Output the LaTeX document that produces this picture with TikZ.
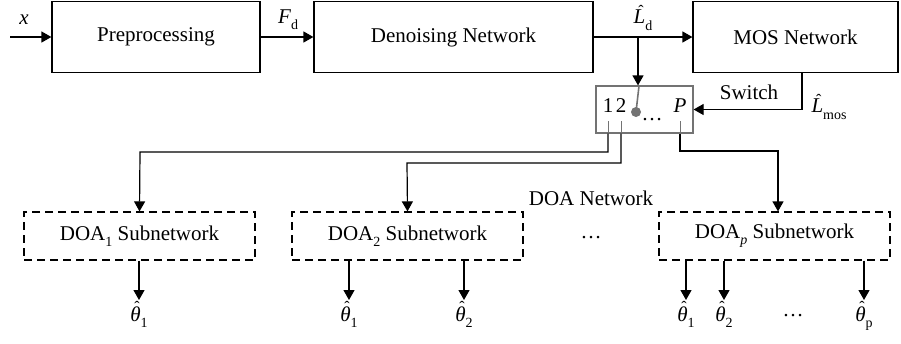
\documentclass[tikz,border=0pt]{standalone}
\usepackage{fontspec}
\setmainfont{Liberation Serif}
\usetikzlibrary{arrows.meta,calc}
% lowered subscript in text mode
\newcommand\lowsub[1]{\raisebox{-0.3em}{\fontsize{14}{15}\selectfont #1}}
% circumflex placed over an italic letter
\newcommand\hatof[2][0.34em]{\setbox0\hbox{#2}\makebox[0pt][l]{\hbox to\wd0{\hss\kern0.14em\raisebox{#1}{\fontsize{16}{16}\selectfont ˆ}\hss}}\box0}
\begin{document}
\begin{tikzpicture}[x=1pt,y=-1pt,
  font=\fontsize{21}{24}\selectfont,
  line width=1.2pt,
  box/.style={draw, rectangle, minimum height=71pt},
  subbox/.style={draw, dash pattern=on 8pt off 5pt, rectangle, minimum width=231pt, minimum height=48pt},
  arr/.style={-{Triangle[length=10pt,width=11pt]}},
  lbl/.style={inner sep=1pt},
  outlbl/.style={anchor=north, inner sep=1pt},
  graybox/.style={draw=black!55, rectangle, minimum width=97pt, minimum height=47pt}]
\useasboundingbox (0,0) rectangle (901,343);

% main processing chain
\node[box, minimum width=208pt] (pre) at (156,37) {Preprocessing};
\node[box, minimum width=279pt] (den) at (453.5,37) {Denoising Network};
\node[box, minimum width=205pt] (mos) at (795.5,37) {MOS Network};

\coordinate (xin) at (10,37);
\draw[arr] (xin) -- (pre.west);
\node[lbl] at (24,20) {\textit{x}};
\draw[arr] (pre.east) -- (den.west);
\node[lbl] at (288,20) {\textit{F}\lowsub{d}};
\draw[arr] (den.east) -- (mos.west);
\node[lbl] at (643,18) {\hatof{\textit{L}}\lowsub{d}};

% switch
\node[graybox] (sw) at (644.5,109.5) {};
\coordinate (br) at (638,37);
\draw[arr] (br) -- (br |- sw.north);
\node[lbl] (t1) at (608,106) {1};
\node[lbl] (t2) at (621,106) {2};
\node[lbl] (tp) at (680,106) {\textit{P}};
\node[lbl] at (652,120) {\dots};
\fill[black!55] (636,112) circle (5pt);
\draw[black!55, line width=1.6pt] (639,86) -- (636,112);

\coordinate (mosout) at ($(mos.south)+(6.5,0)$);
\draw[arr] (mosout) |- (sw.east);
\node[lbl] at (749,92) {Switch};
\node[lbl] at (829,107) {\hatof{\textit{L}}\lowsub{mos}};

% DOA subnetworks
\node[subbox] (d1) at (139.5,236) {DOA\lowsub{1} Subnetwork};
\node[subbox] (d2) at (407.5,236) {DOA\lowsub{2} Subnetwork};
\node[subbox] (dp) at (774.5,236) {DOA\lowsub{\textit{p}} Subnetwork};
\node[lbl] at (591,198) {DOA Network};
\node[lbl] at (591,238) {\dots};

% switch outputs
\coordinate (s1) at (608,121);
\coordinate (s2) at (621,121);
\coordinate (sp) at (680,121);
\draw[black!55, line width=0.9pt] (s1) -- (s1 |- sw.south);
\draw[black!55, line width=0.9pt] (s2) -- (s2 |- sw.south);
\draw[black!55, line width=0.9pt] (sp) -- (sp |- sw.south);
\draw[arr] (s1 |- sw.south) |- (140,152) -- (d1.north);
\draw[arr] (s2 |- sw.south) |- (407,163) -- (d2.north);
\draw[arr] (sp |- sw.south) |- (778,151) -- ($(dp.north)+(3.5,0)$);

% estimated angles
\node[outlbl] (a11) at (139,300) {\hatof[0.42em]{\textit{θ}}\lowsub{1}};
\node[outlbl] (a21) at (349,300) {\hatof[0.42em]{\textit{θ}}\lowsub{1}};
\node[outlbl] (a22) at (464,300) {\hatof[0.42em]{\textit{θ}}\lowsub{2}};
\node[outlbl] (ap1) at (686,300) {\hatof[0.42em]{\textit{θ}}\lowsub{1}};
\node[outlbl] (ap2) at (724,300) {\hatof[0.42em]{\textit{θ}}\lowsub{2}};
\node[outlbl] (app) at (864,300) {\hatof[0.42em]{\textit{θ}}\lowsub{p}};
\node[lbl] at (793,316) {\dots};

\draw[arr] (d1.south -| a11) -- (a11.north);
\draw[arr] (d2.south -| a21) -- (a21.north);
\draw[arr] (d2.south -| a22) -- (a22.north);
\draw[arr] (dp.south -| ap1) -- (ap1.north);
\draw[arr] (dp.south -| ap2) -- (ap2.north);
\draw[arr] (dp.south -| app) -- (app.north);
\end{tikzpicture}
\end{document}
